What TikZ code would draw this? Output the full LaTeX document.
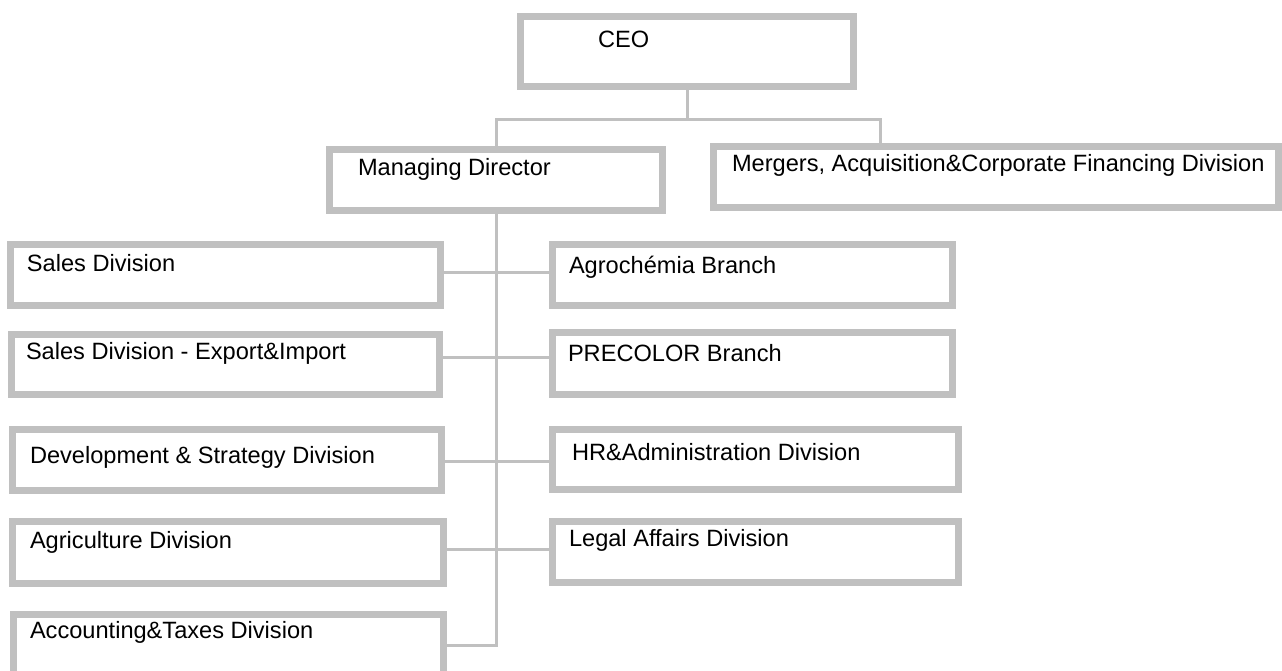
\documentclass[tikz,border=0pt]{standalone}
\usepackage{fontspec}
\setmainfont{Liberation Sans}
\usetikzlibrary{backgrounds}
\definecolor{boxgray}{RGB}{192,192,192}
\begin{document}
\begin{tikzpicture}[x=1pt,y=-1pt,
  orgbox/.style={draw=boxgray, line width=7pt, fill=white, rectangle, inner sep=0pt, outer sep=0pt},
  conn/.style={draw=boxgray, line width=3pt},
  lbl/.style={anchor=base west, inner sep=0pt, outer sep=0pt, font=\fontsize{23.6}{28}\selectfont, text=black}]
\clip (0,0) rectangle (1282,671);
% boxes
\node[orgbox, minimum width=333pt, minimum height=70pt] (ceo) at (687,51.5) {};
\node[orgbox, minimum width=333pt, minimum height=61pt] (md) at (496,180) {};
\node[orgbox, minimum width=565pt, minimum height=61pt] (mer) at (996,177) {};
\node[orgbox, minimum width=430pt, minimum height=61pt] (sales) at (225.5,275) {};
\node[orgbox, minimum width=428pt, minimum height=60pt] (exp) at (225.5,364.5) {};
\node[orgbox, minimum width=429pt, minimum height=61pt] (dev) at (227,460) {};
\node[orgbox, minimum width=431pt, minimum height=62pt] (agri) at (228,552.5) {};
\node[orgbox, minimum width=430pt, minimum height=61pt] (acc) at (228.5,645) {};
\node[orgbox, minimum width=400pt, minimum height=61pt] (agro) at (752.5,275) {};
\node[orgbox, minimum width=400pt, minimum height=62pt] (prec) at (752.5,363.5) {};
\node[orgbox, minimum width=406pt, minimum height=60pt] (hr) at (755.5,459.5) {};
\node[orgbox, minimum width=406pt, minimum height=61pt] (legal) at (755.5,552) {};
% texts
\node[lbl] (ceo-t) at (598,48) {CEO};
\node[lbl] (md-t) at (358,176) {Managing Director};
\node[lbl] (mer-t) at (732,172) {Mergers, Acquisition\&Corporate Financing Division};
\node[lbl] (sales-t) at (27,271) {Sales Division};
\node[lbl] (exp-t) at (26,359) {Sales Division - Export\&Import};
\node[lbl] (dev-t) at (30,463) {Development \& Strategy Division};
\node[lbl] (agri-t) at (30,548) {Agriculture Division};
\node[lbl] (acc-t) at (30,638) {Accounting\&Taxes Division};
\node[lbl] (agro-t) at (569,273) {Agrochémia Branch};
\node[lbl] (prec-t) at (568,361) {PRECOLOR Branch};
\node[lbl] (hr-t) at (572,460) {HR\&Administration Division};
\node[lbl] (legal-t) at (569,546) {Legal Affairs Division};
% connectors
\coordinate (j) at (687,120);
\coordinate (r1) at (0,272);
\coordinate (r2) at (0,357);
\coordinate (r3) at (0,461);
\coordinate (r4) at (0,549);
\begin{scope}[on background layer]
\draw[conn] (ceo.south) -- (j);
\draw[conn] (j) -| (md.north);
\draw[conn] (j) -| ([xshift=-116pt]mer.north);
\draw[conn] (md.south) |- (acc.east);
\draw[conn] (sales.east |- r1) -- (agro.west |- r1);
\draw[conn] (exp.east |- r2) -- (prec.west |- r2);
\draw[conn] (dev.east |- r3) -- (hr.west |- r3);
\draw[conn] (agri.east |- r4) -- (legal.west |- r4);
\end{scope}
\end{tikzpicture}
\end{document}
